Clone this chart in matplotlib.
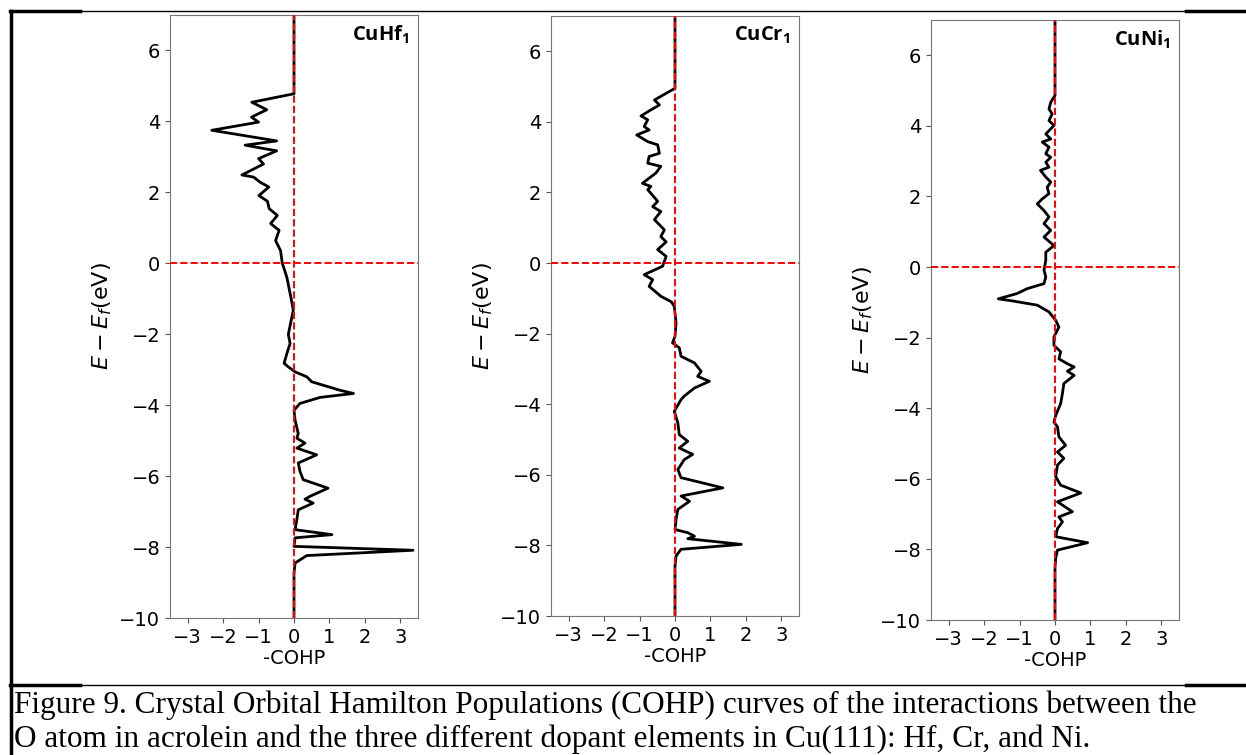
import matplotlib.pyplot as plt
from matplotlib.lines import Line2D

# -COHP curves (energy in eV, -COHP value)
hf_energy = [7.0, 4.78, 4.54, 4.33, 4.12, 3.98, 3.75, 3.45, 3.33, 3.17, 2.95, 2.80, 2.49, 2.43,
             2.29, 2.15, 1.91, 1.75, 1.54, 1.35, 1.12, 0.93, 0.64, 0.36, 0.0, -0.40, -1.05,
             -1.32, -2.00, -2.26, -2.54, -2.82, -2.92, -3.06, -3.20, -3.34, -3.58, -3.67,
             -3.78, -3.95, -4.14, -4.42, -4.80, -4.93, -5.07, -5.21, -5.40, -5.63, -5.87,
             -6.10, -6.34, -6.57, -6.65, -6.76, -6.95, -7.23, -7.51, -7.65, -7.74, -7.98,
             -8.09, -8.24, -8.45, -8.73, -10.0]
hf_cohp = [0.0, 0.0, -1.19, -0.77, -1.20, -1.00, -2.32, -0.49, -1.38, -0.49, -1.00, -0.86, -1.47,
           -1.14, -0.96, -0.71, -0.99, -0.75, -0.70, -0.47, -0.66, -0.42, -0.52, -0.38, -0.33,
           -0.20, -0.07, -0.02, -0.16, -0.11, -0.20, -0.28, -0.16, 0.03, 0.36, 0.50, 1.30,
           1.68, 0.74, 0.17, 0.0, 0.03, 0.12, 0.08, 0.31, 0.08, 0.64, 0.12, 0.17, 0.26, 0.96,
           0.45, 0.31, 0.54, 0.12, 0.08, 0.03, 1.07, 0.03, 0.0, 3.36, 0.36, 0.03, 0.0, 0.0]

cr_energy = [7.0, 4.95, 4.81, 4.62, 4.48, 4.34, 4.17, 4.06, 3.87, 3.77, 3.63, 3.44, 3.35, 3.11,
             3.02, 2.83, 2.74, 2.55, 2.26, 2.17, 2.08, 1.75, 1.60, 1.46, 1.23, 0.94, 0.75,
             0.60, 0.38, 0.19, -0.09, -0.33, -0.47, -0.66, -0.94, -1.10, -1.23, -1.70, -2.08,
             -2.26, -2.40, -2.64, -2.83, -3.07, -3.21, -3.35, -3.54, -3.77, -3.87, -4.20,
             -4.53, -4.86, -5.05, -5.24, -5.42, -5.57, -5.85, -6.08, -6.37, -6.60, -6.75,
             -6.98, -7.26, -7.55, -7.64, -7.74, -7.81, -7.97, -8.11, -8.30, -8.58, -10.0]
cr_cohp = [0.0, 0.0, -0.25, -0.58, -0.44, -0.68, -0.96, -0.77, -0.87, -0.73, -1.08, -0.77, -0.49,
           -0.44, -0.73, -0.77, -0.40, -0.54, -0.92, -0.68, -0.77, -0.49, -0.63, -0.40, -0.58,
           -0.30, -0.40, -0.25, -0.49, -0.25, -0.35, -0.87, -0.63, -0.73, -0.40, -0.10, -0.02,
           0.03, 0.0, -0.07, 0.12, 0.17, 0.55, 0.74, 0.64, 0.97, 0.55, 0.26, 0.17, -0.02,
           0.08, 0.12, 0.36, 0.12, 0.50, 0.26, 0.08, 0.17, 1.35, 0.17, 0.41, 0.08, 0.03, 0.0,
           0.36, 0.55, 0.36, 1.87, 0.17, 0.03, 0.0, 0.0]

ni_energy = [7.0, 4.86, 4.67, 4.48, 4.34, 4.15, 4.01, 3.77, 3.63, 3.54, 3.40, 3.21, 3.11, 2.97,
             2.83, 2.74, 2.55, 2.41, 2.26, 2.08, 1.93, 1.79, 1.60, 1.42, 1.23, 1.04, 0.85,
             0.61, 0.42, 0.19, -0.09, -0.28, -0.47, -0.61, -0.75, -0.90, -0.96, -1.08, -1.27,
             -1.51, -1.70, -1.98, -2.22, -2.40, -2.60, -2.74, -2.83, -2.95, -3.07, -3.30,
             -3.58, -3.87, -4.20, -4.39, -4.53, -4.81, -5.05, -5.24, -5.42, -5.61, -5.94,
             -6.18, -6.40, -6.65, -6.93, -7.08, -7.22, -7.41, -7.64, -7.81, -8.02, -8.25,
             -8.50, -10.0]
ni_cohp = [0.0, 0.0, -0.12, -0.17, -0.08, -0.17, -0.03, -0.26, -0.12, -0.36, -0.17, -0.26, -0.12,
           -0.26, -0.17, -0.41, -0.26, -0.12, -0.22, -0.17, -0.36, -0.50, -0.31, -0.17, -0.31,
           -0.12, -0.31, -0.03, -0.26, -0.26, -0.31, -0.26, -0.31, -0.78, -1.07, -1.60, -1.20,
           -0.50, -0.17, 0.02, 0.11, -0.03, -0.03, 0.16, 0.11, 0.35, 0.54, 0.35, 0.54, 0.25,
           0.21, 0.16, 0.02, -0.03, 0.07, 0.11, 0.30, 0.07, 0.25, 0.07, 0.02, 0.16, 0.73,
           0.07, 0.49, 0.11, 0.21, 0.07, 0.02, 0.92, 0.07, 0.02, 0.0, 0.0]

labels = ['CuHf', 'CuCr', 'CuNi']
x_ticks = [-3, -2, -1, 0, 1, 2, 3]
y_ticks = [-10, -8, -6, -4, -2, 0, 2, 4, 6]
caption = ['Figure 9. Crystal Orbital Hamilton Populations (COHP) curves of the interactions between the',
           'O atom in acrolein and the three different dopant elements in Cu(111): Hf, Cr, and Ni.']

plt.rcParams['mathtext.fontset'] = 'custom'
plt.rcParams['mathtext.rm'] = 'DejaVu Sans'
plt.rcParams['mathtext.it'] = 'DejaVu Sans:italic'
plt.rcParams['mathtext.bf'] = 'Open Sans:bold'

W, H = 1246, 755
fig = plt.figure(figsize=(W / 100, H / 100), dpi=100)

# axes boxes in pixels: left, top, width, height
boxes = [(170, 15, 248, 603), (551, 16, 248, 600), (931, 20, 248, 600)]
curves = [(hf_energy, hf_cohp), (cr_energy, cr_cohp), (ni_energy, ni_cohp)]

for (left, top, w, h), (e, c), name in zip(boxes, curves, labels):
    ax = fig.add_axes([left / W, 1 - (top + h) / H, w / W, h / H])
    ax.plot(c, e, color='black', lw=2, zorder=2, solid_joinstyle='round')
    ax.axvline(0, color='red', ls='--', lw=1.4, zorder=3)
    ax.axhline(0, color='red', ls='--', lw=1.4, zorder=3)
    ax.set_xlim(-3.5, 3.5)
    ax.set_ylim(-10, 7)
    ax.set_xticks(x_ticks)
    ax.set_yticks(y_ticks)
    ax.tick_params(labelsize=14, color='#555555')
    for s in ax.spines.values():
        s.set_color('#777777')
    ax.set_xlabel('-COHP', fontsize=14, labelpad=2)
    ax.set_ylabel('$E-E_f$(eV)', fontsize=16, labelpad=4)
    ax.text(0.965, 0.985, name + r'$_\mathbf{1}$', transform=ax.transAxes, ha='right', va='top',
            fontsize=14.5, fontweight='bold', family='Open Sans')

# page frame around the figure and the caption
def hline(x0, x1, y, lw):
    fig.add_artist(Line2D([x0 / W, x1 / W], [1 - y / H, 1 - y / H], color='black', lw=lw))

hline(10, 1246, 11, 1.0)
hline(10, 80, 11, 2.5)
hline(1186, 1246, 11, 2.5)
hline(10, 1246, 685, 1.0)
hline(10, 80, 685, 2.5)
hline(1186, 1246, 685, 2.5)
fig.add_artist(Line2D([10.5 / W, 10.5 / W], [1 - 11 / H, 0], color='black', lw=2.5))

fig.text(14 / W, 1 - 705 / H, caption[0], fontsize=22.5, family='Liberation Serif', va='center')
fig.text(14 / W, 1 - 739 / H, caption[1], fontsize=22.5, family='Liberation Serif', va='center')

plt.savefig('out.png', dpi=100)
